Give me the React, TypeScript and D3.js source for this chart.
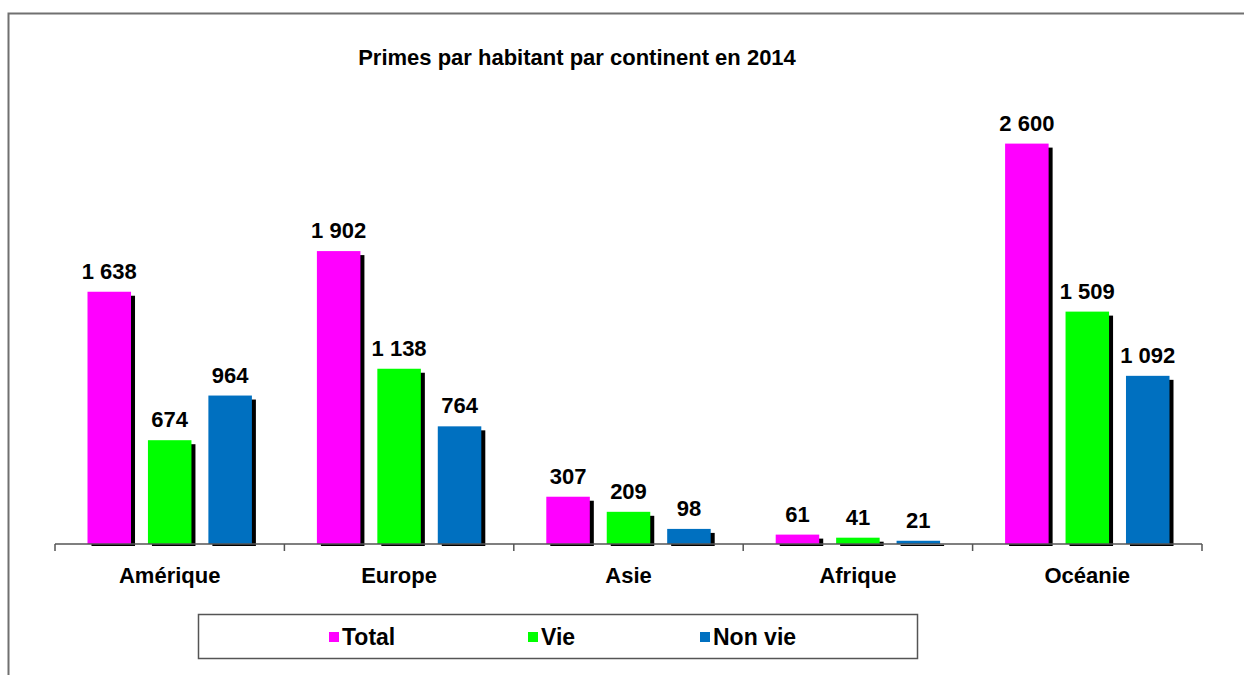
import { useEffect, useRef } from 'react';
import * as d3 from 'd3';

const title = "Primes par habitant par continent en 2014";
const continents = ["Amérique", "Europe", "Asie", "Afrique", "Océanie"];
const seriesNames = ["Total", "Vie", "Non vie"];
const seriesColors = ["#FF00FF", "#00FF00", "#0070C0"];
const totalValues = [1638, 1902, 307, 61, 2600];
const vieValues = [674, 1138, 209, 41, 1509];
const nonVieValues = [964, 764, 98, 21, 1092];

const W = 1244;
const H = 675;

export default function App() {
  const svgRef = useRef<SVGSVGElement>(null);

  useEffect(() => {
    if (!svgRef.current) return;
    const svg = d3.select(svgRef.current);
    svg.selectAll("*").remove();

    const font = "Arial, 'Liberation Sans', sans-serif";
    const fr = d3.formatLocale({ decimal: ",", thousands: " ", grouping: [3], currency: ["", " €"] });
    const fmt = fr.format(",d");

    const values = [totalValues, vieValues, nonVieValues];

    // outer frame (runs off the right and bottom edges)
    svg.append("path")
      .attr("d", `M${W + 5},13.5 H8.5 V${H + 5}`)
      .attr("fill", "none")
      .attr("stroke", "#707070")
      .attr("stroke-width", 2);

    // title
    svg.append("text")
      .attr("x", 577)
      .attr("y", 65)
      .attr("text-anchor", "middle")
      .style("font-family", font)
      .style("font-weight", "bold")
      .style("font-size", "22px")
      .text(title);

    const baseY = 544;
    const x0 = d3.scaleBand<string>().domain(continents).range([55, 1202]);
    const inset = 32.5;
    const x1 = d3.scaleBand<string>()
      .domain(seriesNames)
      .range([inset, x0.bandwidth() - inset])
      .paddingInner(0.28);
    const y = d3.scaleLinear().domain([0, 3000]).range([baseY, 82]);

    const g = svg.append("g");

    continents.forEach((c, ci) => {
      const cg = g.append("g").attr("transform", `translate(${x0(c)},0)`);
      seriesNames.forEach((s, si) => {
        const v = values[si][ci];
        const bx = x1(s)!;
        const bw = x1.bandwidth();
        const top = y(v);
        // shadow
        cg.append("rect")
          .attr("x", bx + 4)
          .attr("y", top + 4)
          .attr("width", bw)
          .attr("height", Math.max(0, baseY + 2 - (top + 4)))
          .attr("fill", "#000");
        cg.append("rect")
          .attr("x", bx)
          .attr("y", top)
          .attr("width", bw)
          .attr("height", baseY - top)
          .attr("fill", seriesColors[si]);
        cg.append("text")
          .attr("x", bx + bw / 2)
          .attr("y", top - 13)
          .attr("text-anchor", "middle")
          .style("font-family", font)
          .style("font-weight", "bold")
          .style("font-size", "22px")
          .text(fmt(v));
      });
      cg.append("text")
        .attr("x", x0.bandwidth() / 2)
        .attr("y", 583)
        .attr("text-anchor", "middle")
        .style("font-family", font)
        .style("font-weight", "bold")
        .style("font-size", "22px")
        .text(c);
    });

    // category axis
    const axis = svg.append("g").attr("stroke", "#555").attr("stroke-width", 1.5).attr("fill", "none");
    axis.append("line").attr("x1", 55).attr("x2", 1202).attr("y1", baseY).attr("y2", baseY);
    const bounds = continents.map(c => x0(c)!).concat([1202]);
    bounds.forEach(b => {
      axis.append("line").attr("x1", b).attr("x2", b).attr("y1", baseY).attr("y2", baseY + 7);
    });

    // legend
    const lg = svg.append("g");
    lg.append("rect")
      .attr("x", 198.5).attr("y", 614.5)
      .attr("width", 719).attr("height", 44)
      .attr("fill", "#fff")
      .attr("stroke", "#555")
      .attr("stroke-width", 1.5);
    const legendX = [329, 528, 700];
    seriesNames.forEach((s, i) => {
      lg.append("rect")
        .attr("x", legendX[i]).attr("y", 632)
        .attr("width", 10).attr("height", 10)
        .attr("fill", seriesColors[i]);
      lg.append("text")
        .attr("x", legendX[i] + 13)
        .attr("y", 645)
        .style("font-family", font)
        .style("font-weight", "bold")
        .style("font-size", "23px")
        .text(s);
    });
  }, []);

  return (
    <svg
      ref={svgRef}
      width={W}
      height={H}
      style={{ position: "absolute", left: 0, top: 0, background: "#fff" }}
    />
  );
}
